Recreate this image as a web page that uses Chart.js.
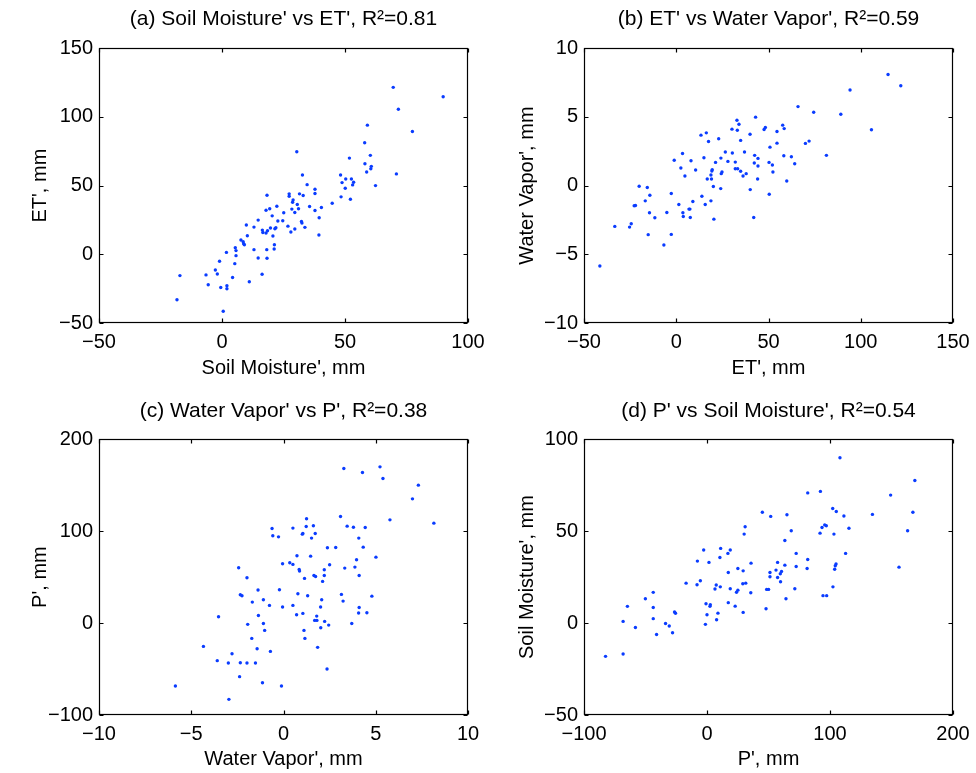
<!DOCTYPE html>
<html>
<head>
<meta charset="utf-8">
<script src="https://cdn.jsdelivr.net/npm/chart.js@4.4.1/dist/chart.umd.min.js"></script>
<style>
  body { margin: 0; background: #fff; }
  #wrap { position: relative; width: 976px; height: 773px; }
  canvas { position: absolute; }
</style>
</head>
<body>
<div id="wrap">
  <canvas id="ca" width="488" height="386" style="left:0;top:0"></canvas>
  <canvas id="cb" width="488" height="386" style="left:488px;top:0"></canvas>
  <canvas id="cc" width="488" height="387" style="left:0;top:386px"></canvas>
  <canvas id="cd" width="488" height="387" style="left:488px;top:386px"></canvas>
</div>
<script>
// (a) soil moisture anomaly vs ET anomaly, mm
const aSoil = [69.6,89.9,71.7,59.1,77.4,58.0,30.4,60.3,51.8,58.1,60.7,60.5,58.8,70.9,32.7,48.2,50.3,52.6,53.5,48.8,
  53.1,34.6,62.4,50.1,37.8,37.8,18.3,27.3,27.3,31.5,33.0,48.4,28.9,28.7,44.8,52.2,30.6,22.3,35.6,40.4,
  19.4,17.9,28.4,31.1,37.8,29.6,25.1,20.4,39.5,14.7,22.7,24.7,32.3,32.5,9.9,26.8,13.0,19.7,21.9,21.5,
  33.7,29.6,16.4,18.5,16.6,17.9,28.0,10.3,20.7,39.4,7.7,8.6,8.8,9.1,21.3,5.4,5.7,13.0,18.2,21.2,
  1.8,5.7,14.7,18.3,-1.0,5.2,-2.7,-1.9,-17.1,-6.5,16.3,4.3,11.1,-5.6,-0.5,2.0,2.0,-18.3,0.5];
const aET = [121.5,114.7,105.6,94.0,89.4,81.2,74.6,72.0,70.0,65.9,64.0,62.3,59.9,58.5,57.7,57.7,54.8,54.8,52.4,52.2,
  50.5,50.7,50.0,48.1,47.3,44.2,43.0,44.0,42.3,44.0,42.8,41.8,39.6,37.9,37.2,40.1,36.2,35.0,34.8,34.1,
  33.1,32.1,32.9,33.1,31.9,30.4,30.2,28.0,26.6,24.9,24.2,24.4,23.9,22.7,21.3,20.5,19.8,19.1,19.3,18.6,
  19.6,18.4,17.6,17.1,15.9,15.5,16.2,13.5,13.3,14.0,10.4,9.2,7.7,7.0,7.0,4.8,2.7,3.4,3.4,3.9,
  1.4,-1.0,-2.7,-2.9,-5.1,-6.8,-11.4,-14.3,-15.5,-15.0,-14.5,-16.9,-20.0,-22.2,-24.2,-22.9,-25.1,-33.1,-41.5];

// (b) ET anomaly vs water vapor anomaly
const bET = [114.8,121.7,94.2,66.0,74.5,89.2,43.0,32.9,34.0,57.7,58.5,30.2,33.1,47.6,48.3,105.8,54.6,16.3,40.0,13.4,
  23.0,17.5,34.9,72.0,70.0,54.6,50.8,26.6,37.0,3.4,30.4,58.3,62.4,81.4,42.5,15.0,24.2,44.3,-1.1,8.0,
  21.3,28.0,32.0,42.3,50.3,64.2,52.1,44.3,2.5,32.0,33.3,10.5,19.5,19.3,34.9,24.8,52.4,24.4,37.9,18.8,
  36.2,4.7,16.8,19.1,44.1,59.9,-20.1,-15.7,20.1,24.1,40.1,-2.7,-14.3,50.4,13.9,-16.8,18.8,9.0,1.4,15.7,
  -22.8,-22.1,6.9,7.4,-14.5,-5.1,3.6,3.8,7.6,-11.6,20.4,42.0,-33.3,-25.3,-24.4,-15.2,-2.7,-6.7,-41.4];
const bWV = [8.09,7.27,6.96,5.75,5.34,5.19,4.98,4.76,4.47,4.40,4.15,4.11,4.03,4.08,4.23,4.06,3.94,3.84,3.74,3.67,
  3.41,3.21,3.29,3.24,3.07,3.09,2.80,2.44,2.44,2.34,2.37,2.17,2.10,2.20,2.20,2.03,2.00,1.98,1.84,1.81,
  1.69,1.76,1.71,1.64,1.69,1.59,1.50,1.43,1.28,1.23,1.23,1.14,1.16,1.06,1.04,0.99,0.99,0.87,0.87,0.77,
  0.70,0.70,0.48,0.48,0.48,0.34,-0.05,-0.14,-0.07,-0.22,-0.29,-0.58,-0.70,-0.63,-0.77,-1.11,-1.11,-1.16,-1.38,-1.38,
  -1.47,-1.45,-1.71,-1.71,-1.98,-1.96,-1.98,-2.25,-2.32,-2.34,-2.44,-2.32,-2.97,-3.02,-2.78,-3.57,-3.55,-4.32,-5.85];

// (c) water vapor anomaly vs precipitation anomaly
const cWV = [3.27,5.23,4.28,5.39,7.31,6.99,3.09,1.25,5.77,8.15,-0.62,0.51,1.23,1.62,3.45,3.79,4.43,-0.58,-0.27,1.02,
  1.05,1.72,1.52,4.08,2.38,2.83,4.32,0.73,1.47,5.01,3.96,-0.05,0.34,0.51,2.50,-2.43,0.85,0.87,2.21,3.32,
  3.87,1.65,1.74,2.21,4.10,-1.98,1.14,2.12,-1.38,-0.22,-2.34,-2.25,0.78,1.31,3.14,4.79,-1.09,2.07,3.23,-1.69,
  -0.76,-0.05,0.51,2.01,4.10,-3.52,-1.36,0.71,1.05,1.80,4.07,4.52,1.69,1.81,2.23,-1.94,-1.09,2.45,3.70,-1.02,
  1.11,2.02,-1.72,1.16,-4.34,1.85,-1.43,-0.71,-2.79,-3.59,-2.99,-2.34,-1.98,-1.52,2.36,-2.38,-1.14,-5.86,-0.11,-2.96];
const cP = [168.1,169.9,163.8,157.2,150.0,135.1,115.9,113.4,112.3,108.7,102.9,103.3,105.1,105.8,105.4,104.3,104.0,94.9,93.8,96.7,
  97.5,97.5,92.4,92.4,81.9,82.2,82.6,73.2,72.8,71.7,68.8,64.5,65.6,63.8,63.4,60.1,58.3,56.5,58.0,59.8,
  60.9,51.8,50.7,51.8,51.8,49.3,48.6,45.3,35.9,36.2,30.8,29.7,31.9,29.7,31.2,29.3,25.4,25.4,23.9,22.8,
  19.2,17.4,19.2,17.4,17.0,6.9,8.3,9.1,10.5,7.6,10.9,11.2,2.9,2.9,1.8,-1.4,-0.4,-2.2,-0.4,-8.0,
  -8.0,-5.1,-16.7,-16.7,-25.4,-26.4,-27.9,-30.8,-33.3,-40.9,-43.5,-43.1,-43.5,-43.5,-50.0,-58.3,-64.9,-68.5,-68.5,-83.0];

// (d) precipitation anomaly vs soil moisture anomaly
const dP = [108.1,169.0,81.9,92.2,149.3,102.2,105.1,45.0,51.8,65.0,111.3,134.5,167.4,95.7,97.0,93.5,31.0,68.5,115.4,163.1,
  30.2,91.9,103.2,63.3,-2.7,11.1,18.9,17.0,72.5,112.7,10.5,81.9,-7.8,1.6,57.4,35.8,63.3,72.5,104.9,104.3,
  25.1,81.4,103.8,156.1,29.4,56.1,60.6,59.6,51.2,17.3,51.2,57.4,59.8,-5.4,-17.0,31.5,29.1,-8.1,7.5,6.5,
  10.8,18.9,25.1,24.0,35.6,48.5,50.1,71.4,102.4,-43.7,-50.1,64.2,94.3,97.3,-0.8,2.7,2.4,17.3,22.9,48.0,
  -64.7,-43.7,-26.4,-25.6,29.4,0.0,8.9,-43.7,-68.2,7.8,-33.7,-30.7,-58.2,-1.3,-28.0,-41.0,-68.2,-82.5];
const dSM = [89.9,77.5,70.8,71.6,69.6,62.3,60.7,60.3,58.0,58.9,58.2,59.1,60.3,53.4,52.9,52.0,52.4,50.2,51.6,50.2,
  48.4,48.9,48.4,44.9,39.7,40.6,39.7,37.9,37.9,37.9,35.7,34.6,33.7,33.0,33.0,32.6,31.5,30.8,32.1,31.2,
  29.7,29.7,29.3,30.4,28.4,28.8,28.1,26.8,27.5,27.5,25.2,24.8,22.5,23.0,21.7,21.7,21.4,20.8,20.7,18.5,
  19.7,18.7,17.9,16.8,16.5,18.3,18.3,18.7,19.7,16.7,13.2,13.2,14.9,14.9,10.5,10.0,9.1,11.1,9.2,7.8,
  9.1,8.5,6.0,5.3,5.8,4.5,5.4,2.4,0.9,1.8,-0.2,-1.6,-2.4,-0.7,-5.3,-6.2,-16.8,-18.1];

// axis ranges: [min, max, step]
const aXr = [-50, 100, 50],  aYr = [-50, 150, 50];
const bXr = [-50, 150, 50],  bYr = [-10, 10, 5];
const cXr = [-10, 10, 5],    cYr = [-100, 200, 100];
const dXr = [-100, 200, 100], dYr = [-50, 100, 50];

const pts = (xs, ys) => xs.map((v, i) => ({ x: v, y: ys[i] }));
const fmt = v => (v < 0 ? '\u2212' + Math.abs(v) : String(v));

Chart.defaults.font.family = "'Liberation Sans', Arial, Helvetica, sans-serif";
Chart.defaults.font.size = 20;
Chart.defaults.color = '#000';

// matlab style box with inward ticks on all four sides
const boxTicks = {
  id: 'boxTicks',
  afterDraw(chart) {
    const { ctx, chartArea: a, scales: { x, y } } = chart;
    const L = Math.round(a.left) + 0.5, R = Math.round(a.right) - 0.5;
    const T = Math.round(a.top) + 0.5, B = Math.round(a.bottom) - 0.5;
    ctx.save();
    ctx.strokeStyle = '#000';
    ctx.lineWidth = 1.2;
    ctx.beginPath();
    x.ticks.forEach(t => {
      const p = Math.round(x.getPixelForValue(t.value)) + 0.5;
      ctx.moveTo(p, B); ctx.lineTo(p, B - 4);
      ctx.moveTo(p, T); ctx.lineTo(p, T + 4);
    });
    y.ticks.forEach(t => {
      const p = Math.round(y.getPixelForValue(t.value)) + 0.5;
      ctx.moveTo(L, p); ctx.lineTo(L + 4, p);
      ctx.moveTo(R, p); ctx.lineTo(R - 4, p);
    });
    ctx.stroke();
    ctx.strokeRect(L, T, R - L, B - T);
    ctx.restore();
  }
};

// box: l = y axis width, r = right padding, b = x axis height, tt/tb = title padding,
// xb = x title bottom padding, yt = y title offset
function panel(id, title, xs, ys, xTitle, yTitle, xr, yr, box) {
  const cv = document.getElementById(id);
  new Chart(cv, {
    type: 'scatter',
    data: {
      datasets: [{
        data: pts(xs, ys),
        pointRadius: 1.7,
        pointBorderWidth: 0,
        backgroundColor: '#0a3cff',
        borderColor: '#0a3cff'
      }]
    },
    options: {
      responsive: false,
      animation: false,
      events: [],
      layout: { padding: 0 },
      plugins: {
        legend: { display: false },
        tooltip: { enabled: false },
        title: {
          display: true, text: title, fullSize: false,
          font: { size: 21, weight: 'normal' },
          padding: { top: box.tt, bottom: box.tb }
        }
      },
      scales: {
        x: {
          type: 'linear', min: xr[0], max: xr[1],
          ticks: { stepSize: xr[2], padding: 7, callback: fmt, maxRotation: 0 },
          grid: { display: false, drawTicks: false },
          border: { display: false },
          title: { display: true, text: xTitle, padding: { top: 0, bottom: box.xb } },
          afterFit: s => { s.height = box.b; s.paddingRight = box.r; }
        },
        y: {
          type: 'linear', min: yr[0], max: yr[1],
          ticks: { stepSize: yr[2], padding: 6, callback: fmt },
          grid: { display: false, drawTicks: false },
          border: { display: false },
          title: { display: true, text: yTitle, padding: { top: box.yt, bottom: 0 } },
          afterFit: s => { s.width = box.l; }
        }
      }
    },
    plugins: [boxTicks]
  });
}

panel('ca', "(a) Soil Moisture' vs ET', R\u00b2=0.81", aSoil, aET, "Soil Moisture', mm", "ET', mm", aXr, aYr,
  { l: 99, r: 20, b: 63, tt: 7, tb: 16, xb: 6, yt: 28 });
panel('cb', "(b) ET' vs Water Vapor', R\u00b2=0.59", bET, bWV, "ET', mm", "Water Vapor', mm", bXr, bYr,
  { l: 96, r: 23, b: 63, tt: 7, tb: 16, xb: 6, yt: 27 });
panel('cc', "(c) Water Vapor' vs P', R\u00b2=0.38", cWV, cP, "Water Vapor', mm", "P', mm", cXr, cYr,
  { l: 99, r: 20, b: 58, tt: 13, tb: 15, xb: 2, yt: 28 });
panel('cd', "(d) P' vs Soil Moisture', R\u00b2=0.54", dP, dSM, "P', mm", "Soil Moisture', mm", dXr, dYr,
  { l: 96, r: 23, b: 58, tt: 13, tb: 15, xb: 2, yt: 27 });
</script>
</body>
</html>
